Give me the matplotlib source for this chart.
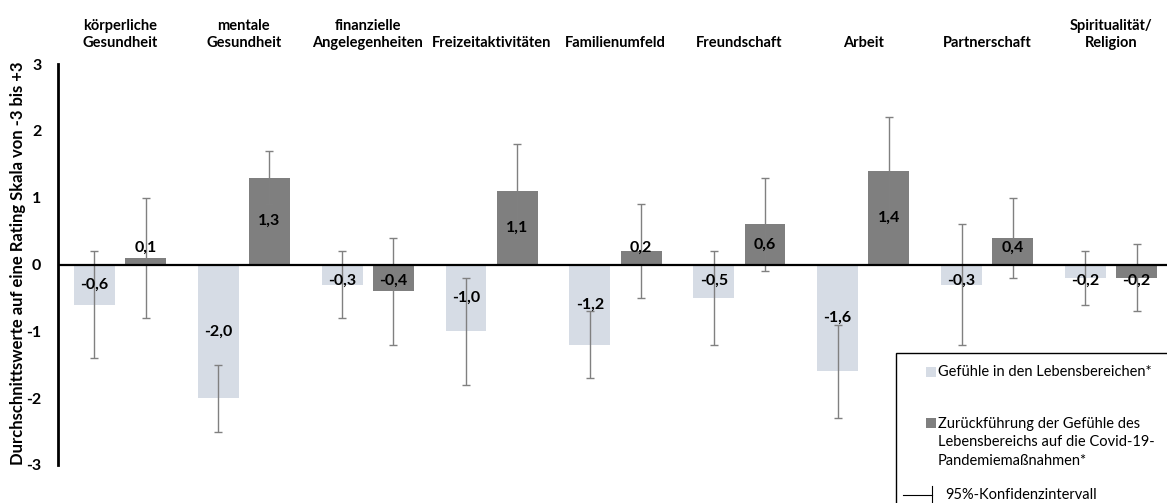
import numpy as np
import matplotlib
matplotlib.use("Agg")
import matplotlib.pyplot as plt
from matplotlib.patches import Rectangle
from matplotlib.lines import Line2D
from matplotlib.transforms import blended_transform_factory

plt.rcParams['font.family'] = ['Lato', 'DejaVu Sans']

categories = ["körperliche\nGesundheit", "mentale\nGesundheit", "finanzielle\nAngelegenheiten",
              "Freizeitaktivitäten", "Familienumfeld", "Freundschaft", "Arbeit",
              "Partnerschaft", "Spiritualität/\nReligion"]

# Gefühle in den Lebensbereichen
feel_mean = [-0.6, -2.0, -0.3, -1.0, -1.2, -0.5, -1.6, -0.3, -0.2]
feel_lo = [-1.4, -2.5, -0.8, -1.8, -1.7, -1.2, -2.3, -1.2, -0.6]
feel_hi = [0.2, -1.5, 0.2, -0.2, -0.7, 0.2, -0.9, 0.6, 0.2]

# Zurückführung auf die Covid-19-Pandemiemaßnahmen
covid_mean = [0.1, 1.3, -0.4, 1.1, 0.2, 0.6, 1.4, 0.4, -0.2]
covid_lo = [-0.8, 0.9, -1.2, 0.4, -0.5, -0.1, 0.6, -0.2, -0.7]
covid_hi = [1.0, 1.7, 0.4, 1.8, 0.9, 1.3, 2.2, 1.0, 0.3]

light = '#d6dce5'
dark = '#7f7f7f'
err_col = '#808080'

fig = plt.figure(figsize=(11.67, 5.03), dpi=100)
W, H = 1167, 503
ax = fig.add_axes([58 / W, 1 - 465 / H, (1173 - 58) / W, (465 - 64) / H])

x = np.arange(len(categories))
off = 0.207
bw = 0.33

def draw_series(pos, mean, lo, hi, color):
    mean = np.array(mean)
    yerr = np.vstack([mean - np.array(lo), np.array(hi) - mean])
    ax.bar(pos, mean, width=bw, color=color, zorder=2)
    ax.errorbar(pos, mean, yerr=yerr, fmt='none', ecolor=err_col, elinewidth=1,
                capsize=3, capthick=1, zorder=3)
    for px, v in zip(pos, mean):
        ly = np.sign(v) * max(abs(v) / 2, 0.25)
        ax.text(px, ly, f"{v:.1f}".replace('.', ','), ha='center', va='center',
                fontsize=11.5, fontweight='bold', color='black', zorder=4)

draw_series(x - off, feel_mean, feel_lo, feel_hi, light)
draw_series(x + off, covid_mean, covid_lo, covid_hi, dark)

ax.axhline(0, color='black', lw=1.6, zorder=3)
ax.set_xlim(-0.5, len(categories) - 0.5)
ax.set_ylim(-3, 3)
ax.set_yticks([-3, -2, -1, 0, 1, 2, 3])
ax.set_yticklabels(['-3', '-2', '-1', '0', '1', '2', '3'], fontweight='bold', fontsize=11.5)
ax.tick_params(axis='y', length=0, pad=12)
ax.set_xticks([])
for s in ['top', 'right', 'bottom']:
    ax.spines[s].set_visible(False)
ax.spines['left'].set_linewidth(2)
ax.spines['left'].set_color('black')

fig.text(18 / W, 1 - 263 / H, "Durchschnittswerte auf eine Rating Skala von -3 bis +3",
         rotation=90, ha='center', va='center', fontsize=12, fontweight='bold')

# Bereichsnamen über den Balkengruppen
trans = blended_transform_factory(ax.transData, fig.transFigure)
for i, c in enumerate(categories):
    ax.text(i, 1 - 50 / H, c, transform=trans, ha='center', va='bottom',
            multialignment='center', fontsize=10.5, fontweight='bold', linespacing=1.25,
            clip_on=False)

# Legende
leg_fs = 10.5
fig.patches.append(Rectangle((896 / W, -0.05), 0.5, 1 - 353 / H + 0.05,
                             transform=fig.transFigure, facecolor='white',
                             edgecolor='black', lw=1, zorder=5))
fig.patches.append(Rectangle((926 / W, 1 - 377 / H), 10 / W, 10 / H,
                             transform=fig.transFigure, facecolor=light, edgecolor='none', zorder=6))
fig.text(938 / W, 1 - 372 / H, "Gefühle in den Lebensbereichen*", ha='left', va='center',
         fontsize=leg_fs, zorder=7)
fig.patches.append(Rectangle((926 / W, 1 - 428 / H), 10 / W, 10 / H,
                             transform=fig.transFigure, facecolor=dark, edgecolor='none', zorder=6))
fig.text(938 / W, 1 - 417 / H,
         "Zurückführung der Gefühle des\nLebensbereichs auf die Covid-19-\nPandemiemaßnahmen*",
         ha='left', va='top', fontsize=leg_fs, linespacing=1.4, zorder=7)
fig.lines.append(Line2D([903 / W, 932 / W], [1 - 495 / H, 1 - 495 / H], transform=fig.transFigure,
                        color='black', lw=0.8, zorder=7))
fig.lines.append(Line2D([932 / W, 932 / W], [1 - 486 / H, 1 - 503 / H], transform=fig.transFigure,
                        color='black', lw=0.8, zorder=7))
fig.text(945 / W, 1 - 495 / H, "95%-Konfidenzintervall", ha='left', va='center',
         fontsize=leg_fs, zorder=7)

fig.savefig("out.png", dpi=100)
